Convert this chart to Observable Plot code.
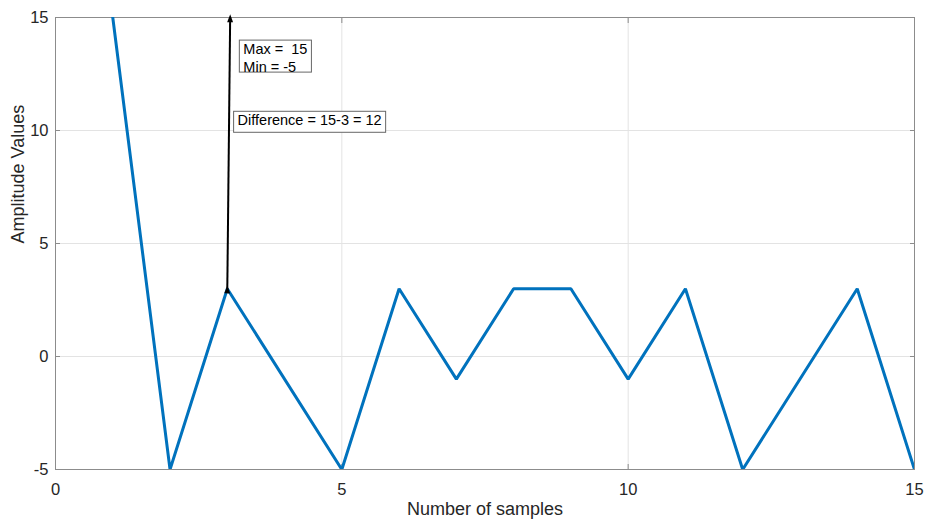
<!DOCTYPE html>
<html>
<head>
<meta charset="utf-8">
<script src="https://cdn.jsdelivr.net/npm/d3@7"></script>
<script src="https://cdn.jsdelivr.net/npm/@observablehq/plot@0.6"></script>
<style>
  html, body { margin: 0; padding: 0; background: #fff; }
  #chart { width: 926px; height: 523px; }
  svg { font-family: "Liberation Sans", Arial, sans-serif; }
</style>
</head>
<body>
<div id="chart"></div>
<script>
// Data
const sampleX = [1, 2, 3, 5, 6, 7, 8, 9, 10, 11, 12, 14, 15];
const amplitude = [15, -5, 3, -5, 3, -1, 3, 3, -1, 3, -5, 3, -5];
const xTicks = [0, 5, 10, 15];
const yTicks = [-5, 0, 5, 10, 15];
// Annotation arrow (double-headed) endpoints
const arrowX = [3, 3.05];
const arrowY = [3, 15];
// Annotation text boxes
const noteText = ["Max =  15\nMin = -5", "Difference = 15-3 = 12"];
const noteX = [3.28, 3.18];
const noteY = [13.95, 10.8];

const line = sampleX.map((x, i) => ({x, y: amplitude[i]}));
const arrow = [{x1: arrowX[0], y1: arrowY[0], x2: arrowX[1], y2: arrowY[1]}];
const notes = noteText.map((t, i) => ({t, x: noteX[i], y: noteY[i]}));

const axisColor = "#8c8c8c";
const labelColor = "#262626";
const fmt = d => String(d);

const plot = Plot.plot({
  width: 926,
  height: 523,
  marginLeft: 55,
  marginRight: 12,
  marginTop: 17,
  marginBottom: 54,
  style: {fontFamily: "Liberation Sans, Arial, sans-serif", background: "#fff"},
  x: {domain: [0, 15]},
  y: {domain: [-5, 15]},
  marks: [
    Plot.gridX(xTicks, {stroke: "#e3e3e3", strokeOpacity: 1}),
    Plot.gridY(yTicks, {stroke: "#e3e3e3", strokeOpacity: 1}),
    Plot.frame({stroke: axisColor, strokeWidth: 1}),
    // inward tick marks on all four sides
    Plot.axisX(xTicks, {anchor: "bottom", tickSize: -5, label: null, text: null, stroke: axisColor}),
    Plot.axisX(xTicks, {anchor: "top", tickSize: -5, label: null, text: null, stroke: axisColor}),
    Plot.axisY(yTicks, {anchor: "left", tickSize: -5, label: null, text: null, stroke: axisColor}),
    Plot.axisY(yTicks, {anchor: "right", tickSize: -5, label: null, text: null, stroke: axisColor}),
    // tick labels
    Plot.axisX(xTicks, {anchor: "bottom", tickSize: 0, tickPadding: 14, fontSize: 16.5, color: labelColor,
      tickFormat: fmt, label: null}),
    Plot.axisY(yTicks, {anchor: "left", tickSize: 0, tickPadding: 7, fontSize: 16.5, color: labelColor,
      tickFormat: fmt, label: null}),
    Plot.text(["Number of samples"], {frameAnchor: "bottom", dy: 45, fontSize: 18, fill: labelColor}),
    Plot.text(["Amplitude Values"], {frameAnchor: "left", dx: -37, rotate: -90, fontSize: 18, fill: labelColor}),
    Plot.line(line, {x: "x", y: "y", stroke: "#0072BD", strokeWidth: 3, strokeLinejoin: "miter", clip: true}),
    Plot.link(arrow, {x1: "x1", y1: "y1", x2: "x2", y2: "y2", stroke: "#000", strokeWidth: 2,
      markerStart: "arrow", markerEnd: "arrow"}),
    Plot.text(notes, {x: "x", y: "y", text: "t", textAnchor: "start", lineAnchor: "top",
      fontSize: 14.5, fill: "#000", className: "note", lineHeight: 1.25})
  ]
});
document.getElementById("chart").appendChild(plot);

// filled arrow heads
plot.querySelectorAll("marker path").forEach(p => {
  p.setAttribute("d", "M-3.5,-2.2L2.5,0L-3.5,2.2Z");
  p.setAttribute("fill", "#000");
  p.setAttribute("stroke", "none");
});

// draw boxes behind annotation texts
plot.querySelectorAll("g.note text").forEach((t, i) => {
  const b = t.getBBox();
  const r = document.createElementNS("http://www.w3.org/2000/svg", "rect");
  const tr = t.getAttribute("transform");
  if (tr) r.setAttribute("transform", tr);
  const h = i === 0 ? 32 : 21;
  r.setAttribute("x", b.x - 4);
  r.setAttribute("y", b.y - 1);
  r.setAttribute("width", b.width + 8);
  r.setAttribute("height", h);
  r.setAttribute("fill", "#fff");
  r.setAttribute("stroke", "#666");
  r.setAttribute("stroke-width", 1);
  t.parentNode.insertBefore(r, t);
});
</script>
</body>
</html>
